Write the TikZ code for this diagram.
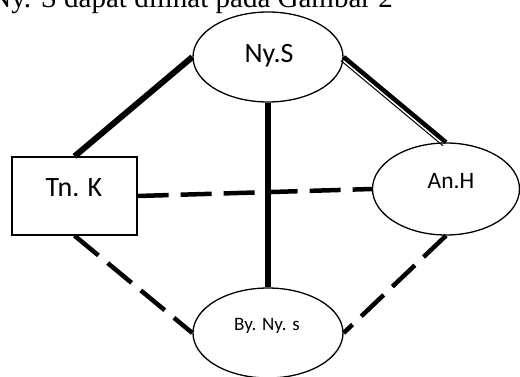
\documentclass[tikz,border=0pt]{standalone}
\usepackage{fontspec}
\setmainfont{Liberation Serif}
\newfontfamily\carlito{Carlito}
\usetikzlibrary{shapes.geometric}
\begin{document}
\begin{tikzpicture}[x=1pt,y=1pt,
  shapeline/.style={draw=black, line width=1.3pt},
  ell/.style={ellipse, shapeline, inner sep=0pt},
  strong/.style={line width=6pt},
  dashlink/.style={line width=4.5pt, dash pattern=on 31pt off 12pt},
  lbl/.style={font=\carlito, anchor=base, inner sep=0pt}]
\useasboundingbox (0,0) rectangle (520,376);
% title line (cut at top)
\node[anchor=base east, inner sep=0pt, font=\fontsize{29}{32}\selectfont] (title) at (393,368.5) {Ny. S dapat dilihat pada Gambar 2};
% shapes
\node[ell, minimum width=150pt, minimum height=90pt] (nys) at (268,319) {};
\node[rectangle, shapeline, minimum width=125pt, minimum height=78pt] (tnk) at (74.5,180) {};
\node[ell, minimum width=147pt, minimum height=92pt] (anh) at (446,187) {};
\node[ell, minimum width=150pt, minimum height=90pt] (bys) at (268,43) {};
% labels
\node[lbl, font=\carlito\fontsize{28}{30}\selectfont] (tnys) at (269,314) {Ny.S};
\node[lbl, font=\carlito\fontsize{28}{30}\selectfont] (ttnk) at (74,180) {Tn. K};
\node[lbl, font=\carlito\fontsize{23.5}{26}\selectfont] (tanh) at (451,188) {An.H};
\node[lbl, font=\carlito\fontsize{19}{22}\selectfont] (tbys) at (267,46) {By. Ny. s};
% connectors
\draw[dashlink] (tnk.east) -- (anh.west);
\draw[dashlink] (tnk.south) -- (bys.west);
\draw[dashlink] (anh.south) -- (bys.east);
\draw[strong] (nys.west) -- (tnk.north);
\draw[strong] (nys.south) -- (bys.north);
\draw[line width=4.5pt] (nys.east) -- (anh.north);
\draw[line width=1pt] ([shift={(-2.9,-3.5)}]nys.east) -- ([shift={(-2.9,-3.5)}]anh.north);
\end{tikzpicture}
\end{document}
